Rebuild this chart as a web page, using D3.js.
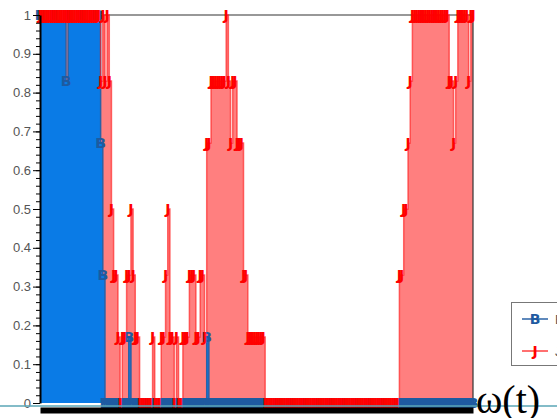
<!DOCTYPE html>
<html>
  <head>
    <meta charset="utf-8">
    <script type="text/javascript" src="https://cdn.jsdelivr.net/npm/d3@7"></script>
    <style>
      body { margin: 0; background: #fff; }
      .axistext { font-family: "Liberation Sans", Arial, sans-serif; font-size: 13px; fill: #555; }
      .marker { font-family: "DejaVu Sans", sans-serif; font-size: 14px; font-weight: bold; }
    </style>
  </head>
  <body>
    <script type="text/javascript">
      WIDTH = 557
      HEIGHT = 418
      LEFT = 40
      RIGHT = 473
      TOP = 15
      BOTTOM = 403

      // series values, one per sample step (201 samples)
      var seriesB = [1, 1, 1, 1, 1, 1, 1, 1, 1, 1, 1, 1, 0.83, 1, 1, 1, 1, 1, 1, 1,
                     1, 1, 1, 1, 1, 1, 1, 1, 0.67, 0.33, 0, 0, 0, 0, 0, 0, 0, 0, 0, 0,
                     0, 0.17, 0, 0, 0, 0, 0, 0, 0, 0, 0, 0, 0, 0, 0, 0, 0, 0, 0, 0,
                     0, 0, 0, 0, 0, 0, 0, 0, 0, 0, 0, 0, 0, 0, 0, 0, 0, 0.17, 0, 0,
                     0, 0, 0, 0, 0, 0, 0, 0, 0, 0, 0, 0, 0, 0, 0, 0, 0, 0, 0, 0,
                     0, 0, 0, 0, 0, 0, 0, 0, 0, 0, 0, 0, 0, 0, 0, 0, 0, 0, 0, 0,
                     0, 0, 0, 0, 0, 0, 0, 0, 0, 0, 0, 0, 0, 0, 0, 0, 0, 0, 0, 0,
                     0, 0, 0, 0, 0, 0, 0, 0, 0, 0, 0, 0, 0, 0, 0, 0, 0, 0, 0, 0,
                     0, 0, 0, 0, 0, 0, 0, 0, 0, 0, 0, 0, 0, 0, 0, 0, 0, 0, 0, 0,
                     0, 0, 0, 0, 0, 0, 0, 0, 0, 0, 0, 0, 0, 0, 0, 0, 0, 0, 0, 0,
                     0]
      var seriesJ = [1, 1, 1, 1, 1, 1, 1, 1, 1, 1, 1, 1, 1, 1, 1, 1, 1, 1, 1, 1,
                     1, 1, 1, 1, 1, 1, 1, 1, 0.83, 1, 0.83, 1, 0.83, 0.5, 0.33, 0.33, 0.17, 0, 0.17, 0.17,
                     0.33, 0.33, 0.5, 0.33, 0.17, 0.17, 0, 0, 0, 0, 0, 0, 0.17, 0, 0, 0, 0.17, 0.17, 0.33, 0.5,
                     0.17, 0.17, 0, 0.17, 0, 0, 0.17, 0.17, 0.17, 0.33, 0.33, 0.33, 0.17, 0.17, 0.33, 0.33, 0.17, 0.67, 0.67, 0.83,
                     0.83, 0.83, 0.83, 0.83, 0.83, 0.83, 1, 0.83, 0.67, 0.83, 0.83, 0.67, 0.67, 0.67, 0.33, 0.33, 0.17, 0.17, 0.17, 0.17,
                     0.17, 0.17, 0.17, 0.17, 0, 0, 0, 0, 0, 0, 0, 0, 0, 0, 0, 0, 0, 0, 0, 0,
                     0, 0, 0, 0, 0, 0, 0, 0, 0, 0, 0, 0, 0, 0, 0, 0, 0, 0, 0, 0,
                     0, 0, 0, 0, 0, 0, 0, 0, 0, 0, 0, 0, 0, 0, 0, 0, 0, 0, 0, 0,
                     0, 0, 0, 0, 0, 0, 0.33, 0.33, 0.5, 0.5, 0.67, 0.83, 1, 1, 1, 1, 1, 1, 1, 1,
                     1, 1, 1, 1, 1, 1, 1, 1, 1, 0.83, 0.83, 0.67, 0.83, 1, 1, 1, 1, 1, 0.83, 1,
                     1]
      var seriesNames = ["B", "J"]
      var yTicks = [0, 0.1, 0.2, 0.3, 0.4, 0.5, 0.6, 0.7, 0.8, 0.9, 1]
      var xLabel = "ω(t)"

      var svg = d3.select("body")
            .append("svg")
            .attr("width", WIDTH)
            .attr("height", HEIGHT);

      // scales
      var xscale = d3.scaleLinear().domain([0, seriesJ.length - 1]).range([LEFT, RIGHT])
      var yscale = d3.scaleLinear().domain([0, 1]).range([BOTTOM, TOP])

      var area = d3.area()
        .curve(d3.curveStepAfter)
        .x(function(d, i) { return xscale(i) })
        .y0(yscale(0))
        .y1(function(d) { return yscale(d) })
      var line = d3.line()
        .curve(d3.curveStepAfter)
        .x(function(d, i) { return xscale(i) })
        .y(function(d) { return yscale(d) })

      // filled areas, J behind B
      svg.append("path").datum(seriesJ).attr("d", area)
        .attr("fill", "#ff0000").attr("fill-opacity", 0.5)
      svg.append("path").datum(seriesB).attr("d", area)
        .attr("fill", "#0a7be6")

      // plot frame (top and right)
      svg.append("line").attr("x1", LEFT).attr("x2", RIGHT).attr("y1", TOP).attr("y2", TOP)
        .attr("stroke", "#333").attr("stroke-width", 1.2)
      svg.append("line").attr("x1", RIGHT).attr("x2", RIGHT).attr("y1", TOP).attr("y2", BOTTOM)
        .attr("stroke", "#333").attr("stroke-width", 1.2)

      // step lines
      svg.append("path").datum(seriesB).attr("d", line)
        .attr("fill", "none").attr("stroke", "#2a62a6").attr("stroke-width", 1.5)
      svg.append("path").datum(seriesJ).attr("d", line)
        .attr("fill", "none").attr("stroke", "#ff2020").attr("stroke-opacity", 0.65).attr("stroke-width", 1.5)

      // letter markers
      function markers(data, letter, colour)
      {
        svg.append("g").selectAll("text").data(data).enter()
          .append("text").attr("class", "marker")
          .attr("x", function(d, i) { return xscale(i) })
          .attr("y", function(d) { return yscale(d) })
          .attr("text-anchor", "middle")
          .attr("dominant-baseline", "central")
          .attr("fill", colour)
          .text(letter)
      }
      markers(seriesB, seriesNames[0], "#1e5aa0")
      markers(seriesJ, seriesNames[1], "#ff0000")

      // y axis with minor ticks
      var minor = d3.range(0, 1.001, 0.02)
      svg.append("g").attr("transform", "translate(" + LEFT + ",0)")
        .call(d3.axisLeft(yscale).tickValues(minor).tickSize(4).tickFormat(""))
        .call(function(g) { g.select(".domain").remove() })
      var yaxis = svg.append("g").attr("transform", "translate(" + LEFT + ",0)")
        .call(d3.axisLeft(yscale).tickValues(yTicks).tickSize(7).tickSizeOuter(0)
          .tickFormat(function(d) { return (d === 0 || d === 1) ? d : d.toFixed(1) }))
      yaxis.select(".domain").attr("stroke-width", 2)
      yaxis.selectAll("text").attr("class", "axistext").attr("dx", "1")

      // x axis drawn as a heavy band below the plot
      svg.append("g").attr("transform", "translate(0,410)")
        .call(d3.axisBottom(xscale).tickValues([]).tickSizeOuter(0))
        .select(".domain").attr("stroke", "#000").attr("stroke-width", 6)

      // teal baseline across the picture
      svg.append("line").attr("x1", 0).attr("x2", WIDTH).attr("y1", 406).attr("y2", 406)
        .attr("stroke", "#5aa6b6").attr("stroke-width", 1.5)

      svg.append("text").attr("x", 476).attr("y", 413)
        .attr("font-family", "Liberation Serif, Times New Roman, serif")
        .attr("font-size", 40).attr("fill", "#000")
        .text(xLabel)

      // legend (cut by the right edge)
      var legend = svg.append("g")
      legend.append("rect").attr("x", 511.5).attr("y", 302.5).attr("width", 70).attr("height", 63)
        .attr("fill", "#fff").attr("stroke", "#777")
      var legendColours = [["#2a62a6", "#1e5aa0"], ["#ff4040", "#ff0000"]]
      seriesNames.forEach(function(name, i) {
        var ly = 319 + i * 32
        legend.append("line").attr("x1", 522).attr("x2", 548).attr("y1", ly).attr("y2", ly)
          .attr("stroke", legendColours[i][0]).attr("stroke-width", 1.5)
        legend.append("text").attr("class", "marker").attr("x", 535).attr("y", ly)
          .attr("text-anchor", "middle").attr("dominant-baseline", "central")
          .attr("fill", legendColours[i][1]).text(name)
        legend.append("text").attr("class", "axistext").attr("x", 555).attr("y", ly)
          .attr("dominant-baseline", "central").text(name)
      })
    </script>
  </body>
</html>
